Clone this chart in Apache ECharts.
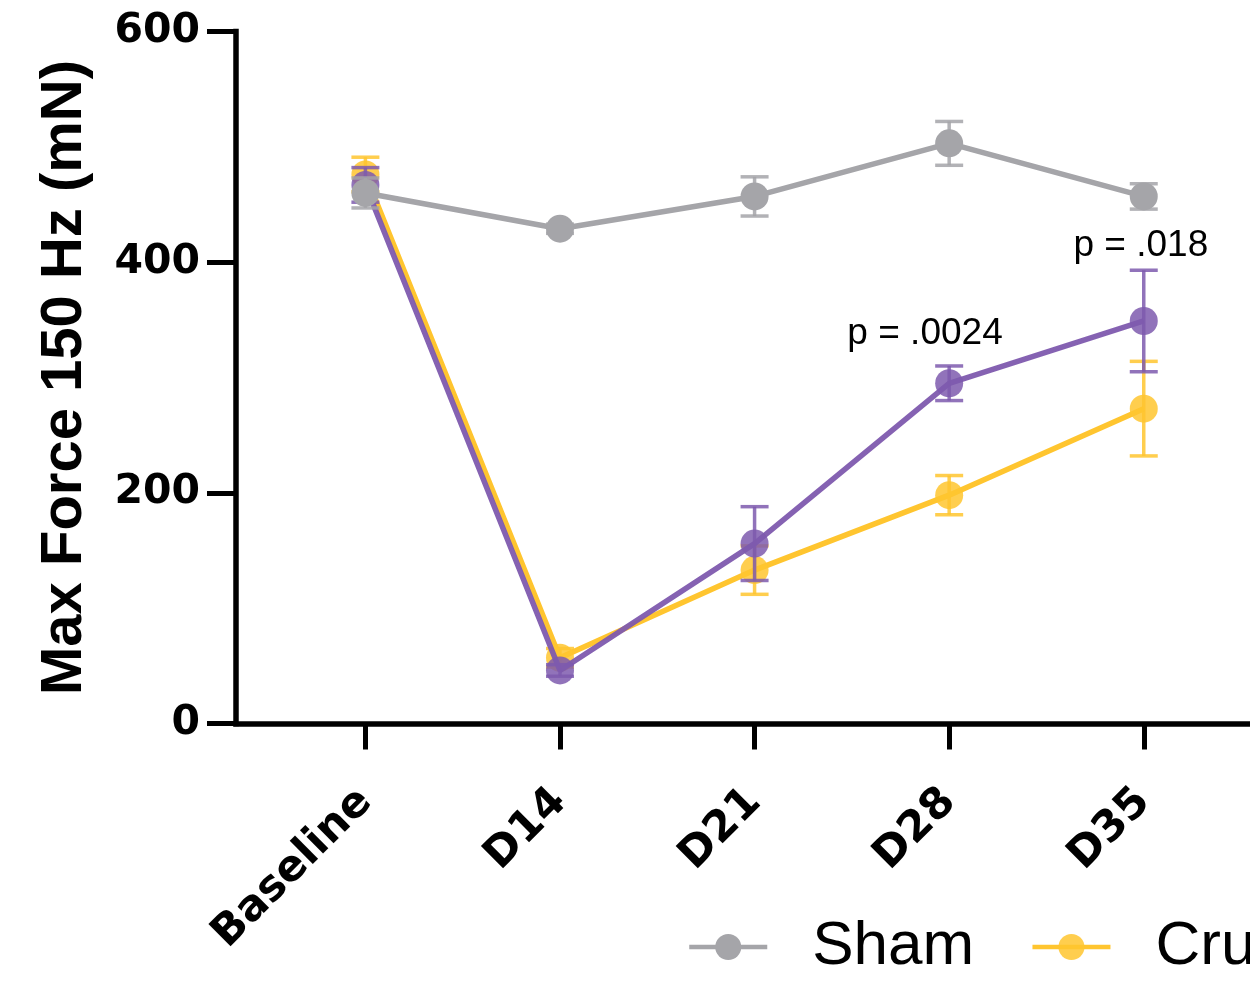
<!DOCTYPE html>
<html style="height: 100%">
<head>
  <meta charset="utf-8">
  <script src="https://cdn.jsdelivr.net/npm/echarts@6/dist/echarts.min.js"></script>
</head>
<body style="height: 100%; margin: 0; background: #fff">
  <div id="container" style="width: 1250px; height: 983px"></div>
  <script type="text/javascript">
// 数据
var categories = ['Baseline', 'D14', 'D21', 'D28', 'D35'];
var shamMean  = [460, 429, 457, 503, 457];
var shamErr   = [13, 4, 17, 19, 11];
var crushMean = [476, 57, 133, 198, 273];
var crushErr  = [15, 8, 21, 17, 41];
var treatMean = [467, 46, 156, 295, 349];
var treatErr  = [15, 5, 32, 15, 44];
var pLabels   = ['p = .0024', 'p = .018'];

var grey = '#A5A5A9';
var yellow = '#FFC52F';
var purple = '#7E5AAE';

function pts(arr) {
  return arr.map(function (v, i) { return [i, v]; });
}
function errPts(mean, err) {
  return mean.map(function (v, i) { return [i, v, err[i]]; });
}

// 误差棒
function errorBars(color) {
  return function (params, api) {
    var x = api.value(0), y = api.value(1), e = api.value(2);
    var top = api.coord([x, y + e]);
    var bot = api.coord([x, y - e]);
    var hw = 14;
    var style = { stroke: color, lineWidth: 3.5, opacity: 0.85 };
    return {
      type: 'group',
      children: [
        { type: 'line', shape: { x1: top[0], y1: top[1], x2: bot[0], y2: bot[1] }, style: style },
        { type: 'line', shape: { x1: top[0] - hw, y1: top[1], x2: top[0] + hw, y2: top[1] }, style: style },
        { type: 'line', shape: { x1: bot[0] - hw, y1: bot[1], x2: bot[0] + hw, y2: bot[1] }, style: style }
      ]
    };
  };
}

var dom = document.getElementById('container');
var myChart = echarts.init(dom, null, { renderer: 'canvas' });

var tickFont = { fontFamily: 'DejaVu Sans', fontWeight: 'bold', color: '#000' };

var option = {
  animation: false,
  grid: { left: 236, right: 0, top: 31.5, bottom: 259.5, outerBoundsMode: 'none' },
  legend: {
    left: 687,
    top: 915,
    width: 2000,
    padding: 0,
    itemWidth: 78,
    itemHeight: 32.5,
    itemGap: 56,
    data: ['Sham', 'Crush'],
    lineStyle: { width: 4.5 },
    textStyle: {
      fontFamily: 'Liberation Sans', fontSize: 62, color: '#000',
      lineHeight: 64, padding: [0, 0, 0, 40]
    }
  },
  xAxis: {
    type: 'value',
    min: -0.665,
    max: 4.546,
    splitLine: { show: false },
    axisLine: { onZero: false, lineStyle: { color: '#000', width: 5.5, cap: 'square' } },
    axisTick: { show: true, inside: false, length: 26, customValues: [0, 1, 2, 3, 4], lineStyle: { color: '#000', width: 5 } },
    axisLabel: Object.assign({
      customValues: [0, 1, 2, 3, 4],
      rotate: 45,
      fontSize: 43,
      margin: 72,
      formatter: function (v) { return categories[Math.round(v)]; }
    }, tickFont)
  },
  yAxis: {
    type: 'value',
    min: 0,
    max: 600,
    interval: 200,
    name: 'Max Force 150 Hz (mN)',
    nameLocation: 'middle',
    nameGap: 142,
    nameTextStyle: { fontFamily: 'Liberation Sans', fontWeight: 'bold', fontSize: 58, color: '#000' },
    splitLine: { show: false },
    axisLine: { show: true, onZero: false, lineStyle: { color: '#000', width: 5.5, cap: 'square' } },
    axisTick: { show: true, length: 29, lineStyle: { color: '#000', width: 5 } },
    axisLabel: Object.assign({ fontSize: 41, margin: 36 }, tickFont)
  },
  series: [
    {
      name: 'crushErr', type: 'custom', renderItem: errorBars(yellow),
      data: errPts(crushMean, crushErr), z: 2
    },
    {
      name: 'Crush', type: 'line', data: pts(crushMean), z: 2,
      symbol: 'circle', symbolSize: 28,
      itemStyle: { color: yellow, opacity: 0.85 },
      lineStyle: { color: yellow, width: 5.5 }
    },
    {
      name: 'treatErr', type: 'custom', renderItem: errorBars(purple),
      data: errPts(treatMean, treatErr), z: 3
    },
    {
      name: 'Crush + Treatment', type: 'line', data: pts(treatMean), z: 3,
      symbol: 'circle', symbolSize: 28,
      itemStyle: { color: purple, opacity: 0.85 },
      lineStyle: { color: purple, width: 5.5, opacity: 0.95 },
      markPoint: {
        symbol: 'circle', symbolSize: 0,
        label: {
          show: true, position: 'inside', formatter: '{b}',
          fontFamily: 'Liberation Sans', fontSize: 37, color: '#000'
        },
        data: [
          { name: pLabels[0], coord: [2.876, 338] },
          { name: pLabels[1], coord: [3.985, 414] }
        ]
      }
    },
    {
      name: 'shamErr', type: 'custom', renderItem: errorBars(grey),
      data: errPts(shamMean, shamErr), z: 4
    },
    {
      name: 'Sham', type: 'line', data: pts(shamMean), z: 4,
      symbol: 'circle', symbolSize: 28,
      itemStyle: { color: grey, opacity: 1 },
      lineStyle: { color: grey, width: 5.5 }
    }
  ]
};

myChart.setOption(option);
  </script>
</body>
</html>
